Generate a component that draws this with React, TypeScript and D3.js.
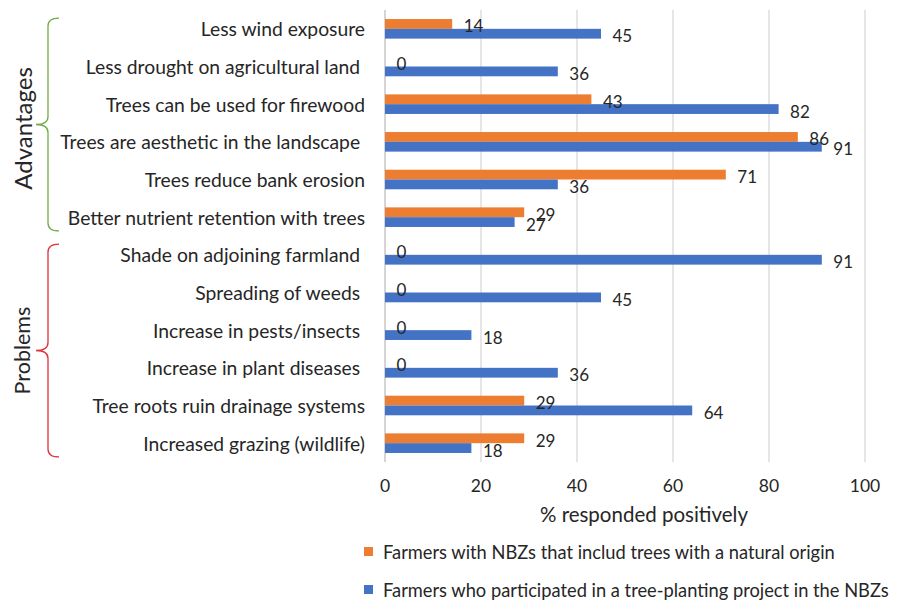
import React from "react";
import * as d3 from "d3";

// Survey responses (% of farmers answering positively)
const categories = [
  "Less wind exposure",
  "Less drought on agricultural land ",
  "Trees can be used for firewood",
  "Trees are aesthetic in the landscape ",
  "Trees reduce bank erosion",
  "Better nutrient retention with trees",
  "Shade on adjoining farmland ",
  "Spreading of weeds ",
  "Increase in pests/insects ",
  "Increase in plant diseases ",
  "Tree roots ruin drainage systems",
  "Increased grazing (wildlife)",
];

const naturalOrigin = [14, 0, 43, 86, 71, 29, 0, 0, 0, 0, 29, 29];
const plantingProject = [45, 36, 82, 91, 36, 27, 91, 45, 18, 36, 64, 18];

const seriesNames = [
  "Farmers with NBZs that includ trees with a natural origin",
  "Farmers who participated in a tree-planting project in the NBZs",
];
const seriesColors = ["#ED7D31", "#4472C4"];

const xTicks = [0, 20, 40, 60, 80, 100];

const groups = [
  { name: "Advantages", first: 0, last: 5, color: "#70AD47", size: 24, shift: 4 },
  { name: "Problems", first: 6, last: 11, color: "#E0303A", size: 21.5, shift: 0 },
];

const FONT = "Lato, 'Open Sans', sans-serif";
const TEXT = "#262626";

export default function App() {
  const W = 921;
  const H = 600;
  const x = d3.scaleLinear().domain([0, 100]).range([385, 865]);
  const y = d3
    .scaleBand<string>()
    .domain(categories)
    .range([10, 462])
    .paddingInner(0.48)
    .paddingOuter(0.24);
  const sub = d3
    .scaleBand<number>()
    .domain([0, 1])
    .range([0, y.bandwidth()]);
  const series = [naturalOrigin, plantingProject];

  const bracePath = (top: number, bottom: number, tipX: number, lineX: number, endX: number) => {
    const mid = (top + bottom) / 2;
    const r = 8;
    return [
      `M${endX},${top}`,
      `Q${lineX},${top} ${lineX},${top + r}`,
      `L${lineX},${mid - r}`,
      `Q${lineX},${mid} ${tipX},${mid}`,
      `Q${lineX},${mid} ${lineX},${mid + r}`,
      `L${lineX},${bottom - r}`,
      `Q${lineX},${bottom} ${endX},${bottom}`,
    ].join(" ");
  };

  return (
    <svg
      width={W}
      height={H}
      style={{ position: "absolute", left: 0, top: 0, background: "#fff" }}
      fontFamily={FONT}
    >
      {/* vertical gridlines */}
      {xTicks.map((t) => (
        <line
          key={t}
          x1={x(t)}
          x2={x(t)}
          y1={10}
          y2={462}
          stroke={t === 0 ? "#BFBFBF" : "#D9D9D9"}
          strokeWidth={1.3}
        />
      ))}

      {/* bars */}
      {categories.map((c, i) => (
        <g key={c} transform={`translate(0,${y(c)})`}>
          {series.map((vals, s) => (
            <rect
              key={s}
              x={x(0)}
              y={sub(s)}
              width={x(vals[i]) - x(0)}
              height={sub.bandwidth()}
              fill={seriesColors[s]}
            />
          ))}
        </g>
      ))}

      {/* value labels */}
      {categories.map((c, i) =>
        series.map((vals, s) => (
          <text
            key={`${c}-${s}`}
            x={x(vals[i]) + 11.5}
            y={(y(c) as number) + (sub(s) as number) + sub.bandwidth() / 2 + 2}
            dominantBaseline="central"
            fontSize={17}
            fill={TEXT}
          >
            {vals[i]}
          </text>
        ))
      )}

      {/* category labels */}
      {categories.map((c) => (
        <text
          key={c}
          x={365}
          y={(y(c) as number) + y.bandwidth() / 2}
          textAnchor="end"
          dominantBaseline="central"
          fontSize={19.3}
          fill={TEXT}
          style={{ whiteSpace: "pre" }}
        >
          {c}
        </text>
      ))}

      {/* x axis ticks */}
      {xTicks.map((t) => (
        <text
          key={t}
          x={x(t)}
          y={485}
          textAnchor="middle"
          dominantBaseline="central"
          fontSize={17.5}
          fill={TEXT}
        >
          {t}
        </text>
      ))}
      <text
        x={644}
        y={514}
        textAnchor="middle"
        dominantBaseline="central"
        fontSize={20.5}
        fill={TEXT}
      >
        % responded positively
      </text>

      {/* legend */}
      {seriesNames.map((n, s) => (
        <g key={n} transform={`translate(364,${552 + s * 38})`}>
          <rect x={0} y={-5} width={9} height={9} fill={seriesColors[s]} />
          <text x={19} y={0} dominantBaseline="central" fontSize={18.3} fill={TEXT}>
            {n}
          </text>
        </g>
      ))}

      {/* group braces */}
      {groups.map((g) => {
        const top = (y(categories[g.first]) as number) - 1;
        const bottom = (y(categories[g.last]) as number) + y.bandwidth() + 4;
        const mid = (top + bottom) / 2;
        return (
          <g key={g.name}>
            <path
              d={bracePath(top, bottom, 36, 48, 59)}
              fill="none"
              stroke={g.color}
              strokeWidth={1.3}
            />
            <text
              transform={`translate(22,${mid + g.shift}) rotate(-90)`}
              textAnchor="middle"
              dominantBaseline="central"
              fontSize={g.size}
              fill={TEXT}
            >
              {g.name}
            </text>
          </g>
        );
      })}
    </svg>
  );
}
